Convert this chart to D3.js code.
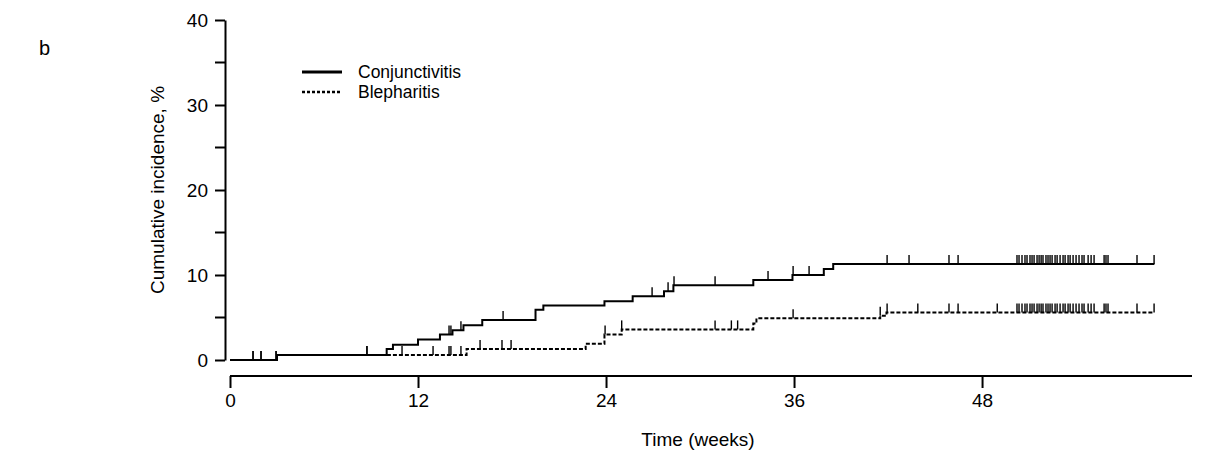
<!DOCTYPE html>
<html lang="en">
<head>
<meta charset="UTF-8">
<title>Cumulative incidence</title>
<script src="https://d3js.org/d3.v7.min.js"></script>
<style>
  body { margin: 0; background: #fff; }
  svg { font-family: "Liberation Sans", Arial, sans-serif; }
  .axis path, .axis line { stroke: #000; stroke-width: 2; }
  .axis text { font-size: 19px; fill: #000; }
</style>
</head>
<body>
<script>
// step times (weeks) and cumulative incidence (%)
const conjTimes  = [0, 3.0, 10.0, 10.4, 12.0, 13.4, 14.2, 14.9, 16.1, 19.5, 20.0, 23.9, 25.7, 27.7, 28.3, 33.4, 35.9, 37.9, 38.5];
const conjValues = [0, 0.6, 1.3, 1.8, 2.4, 3.0, 3.5, 4.1, 4.7, 5.9, 6.4, 6.9, 7.5, 8.1, 8.8, 9.4, 10.0, 10.7, 11.3];
const blephTimes  = [0, 3.0, 15.1, 22.7, 23.9, 25.0, 33.4, 33.6, 41.5, 41.9];
const blephValues = [0, 0.6, 1.3, 1.9, 3.0, 3.6, 4.3, 4.9, 5.2, 5.6];
const endTime = 59.0;

// censored observations
const conjCensored = [1.47, 1.98, 2.94, 8.74, 13.98, 14.1, 14.74, 17.43, 26.94, 27.96, 28.34, 30.96, 34.34, 35.94, 36.96, 41.94, 43.34, 45.89, 46.47];
const blephCensored = [1.47, 1.98, 2.94, 8.74, 10.98, 12.96, 13.98, 14.1, 14.74, 15.96, 17.36, 17.94, 23.94, 25.0, 30.96, 32.0, 32.4, 35.94, 41.5, 41.94, 43.9, 45.89, 46.47, 48.97];
const lateCensored = [50.23, 50.36, 50.55, 50.74, 50.87, 51.06, 51.19, 51.32, 51.51, 51.64, 51.77, 51.89, 52.08, 52.21, 52.34, 52.47, 52.66, 52.79, 52.98, 53.17, 53.30, 53.49, 53.62, 53.81, 54.00, 54.19, 54.38, 54.51, 54.77, 54.96, 55.15, 55.79, 55.91, 56.04, 57.89, 58.98];

const xTicks = [0, 12, 24, 36, 48];
const yTicks = [0, 10, 20, 30, 40];
const yMinorTicks = [5, 15, 25, 35];

const w = 1208, h = 450;
const svg = d3.select("body").append("svg").attr("width", w).attr("height", h);

const x = d3.scaleLinear().domain([0, 61.4]).range([230, 1192]);
const y = d3.scaleLinear().domain([0, 40]).range([360, 20]);

// x axis (offset below the plot)
const xAxis = svg.append("g").attr("class", "axis")
  .attr("transform", "translate(0,376)")
  .call(d3.axisBottom(x).tickValues(xTicks).tickSize(12).tickSizeOuter(0).tickPadding(6));
xAxis.select(".domain").attr("d", `M${x(0)},0H${x.range()[1]}`);

// y axis
const yAxis = svg.append("g").attr("class", "axis")
  .attr("transform", "translate(225,0)")
  .call(d3.axisLeft(y).tickValues(yTicks).tickSize(10).tickSizeOuter(0).tickPadding(7));
yAxis.selectAll(".minor").data(yMinorTicks).enter().append("line")
  .attr("class", "minor")
  .attr("x1", -10).attr("x2", 0)
  .attr("y1", d => y(d)).attr("y2", d => y(d))
  .attr("stroke", "#000").attr("stroke-width", 2);

// titles
svg.append("text").attr("x", 39).attr("y", 55)
  .attr("font-size", 20).text("b");
svg.append("text")
  .attr("transform", `translate(164,${(y(0) + y(40)) / 2}) rotate(-90)`)
  .attr("text-anchor", "middle").attr("font-size", 19)
  .text("Cumulative incidence, %");
svg.append("text").attr("x", 698).attr("y", 446)
  .attr("text-anchor", "middle").attr("font-size", 19)
  .text("Time (weeks)");

function stepLine(times, values) {
  const pts = times.map((t, i) => [t, values[i]]);
  pts.push([endTime, values[values.length - 1]]);
  return d3.line().x(d => x(d[0])).y(d => y(d[1])).curve(d3.curveStepAfter)(pts);
}

function valueAt(times, values, t) {
  const i = d3.bisectRight(times, t) - 1;
  return values[Math.max(0, i)];
}

const series = [
  { times: conjTimes, values: conjValues, censored: conjCensored.concat(lateCensored), dash: null },
  { times: blephTimes, values: blephValues, censored: blephCensored.concat(lateCensored), dash: "4,2" }
];

series.slice().reverse().forEach(s => {
  svg.append("path")
    .attr("d", stepLine(s.times, s.values))
    .attr("fill", "none").attr("stroke", "#000").attr("stroke-width", 2)
    .attr("stroke-dasharray", s.dash);
  svg.append("g").selectAll("line").data(s.censored).enter().append("line")
    .attr("x1", d => x(d)).attr("x2", d => x(d))
    .attr("y1", d => y(valueAt(s.times, s.values, d)))
    .attr("y2", d => y(valueAt(s.times, s.values, d)) - 9)
    .attr("stroke", "#000").attr("stroke-width", 1.4);
});

// legend
const legend = [
  { label: "Conjunctivitis", dash: null },
  { label: "Blepharitis", dash: "3,2" }
];
const lg = svg.append("g").attr("transform", "translate(302,72)");
lg.selectAll("line").data(legend).enter().append("line")
  .attr("x1", 0).attr("x2", 40)
  .attr("y1", (d, i) => i * 20).attr("y2", (d, i) => i * 20)
  .attr("stroke", "#000").attr("stroke-width", (d, i) => i ? 2.5 : 3)
  .attr("stroke-dasharray", d => d.dash);
lg.selectAll("text").data(legend).enter().append("text")
  .attr("x", 56).attr("y", (d, i) => i * 20)
  .attr("dy", "0.35em").attr("font-size", 17.5)
  .text(d => d.label);
</script>
</body>
</html>
